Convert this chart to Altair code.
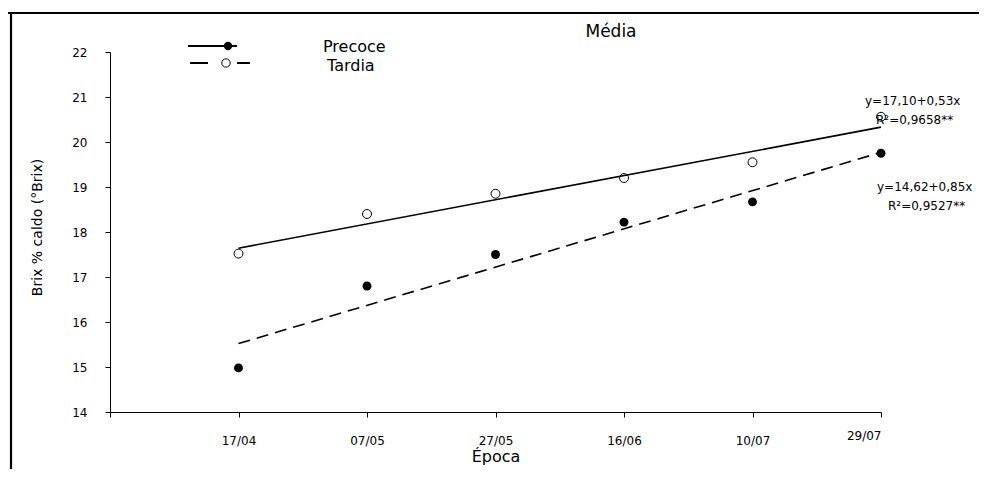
import altair as alt
import pandas as pd

# ---- data ----
dates = ["17/04", "07/05", "27/05", "16/06", "10/07", "29/07"]
epoch = [1, 2, 3, 4, 5, 6]
precoce = [14.98, 16.80, 17.50, 18.22, 18.67, 19.75]   # filled dots
tardia = [17.52, 18.40, 18.85, 19.20, 19.55, 20.56]    # open circles
fit_x = [1, 6]
fit_tardia = [17.64, 20.33]    # solid regression line
fit_precoce = [15.52, 19.77]   # dashed regression line
eq_texts = ["y=17,10+0,53x", "R²=0,9658**", "y=14,62+0,85x", "R²=0,9527**"]
legend_names = ["Precoce", "Tardia"]
title_text = "Média"
x_title = "Época"
y_title = "Brix % caldo (°Brix)"

FONT = "DejaVu Sans"

pts = pd.DataFrame({"x": epoch, "precoce": precoce, "tardia": tardia})
fit = pd.DataFrame({"x": fit_x, "tardia": fit_tardia, "precoce": fit_precoce})
one = pd.DataFrame({"k": [0]})

label_arr = "[" + ",".join("'%s'" % d for d in dates) + "]"

xscale = alt.Scale(domain=[0, 6], nice=False, zero=False)
yscale = alt.Scale(domain=[14, 22], nice=False, zero=False)

xaxis = alt.Axis(
    values=[0, 1, 2, 3, 4, 5, 6],
    labelExpr="datum.value == 0 ? '' : %s[datum.value - 1]" % label_arr,
    title=x_title,
    titleFont=FONT, titleFontSize=16, titleFontWeight="normal", titleColor="black",
    titleY=49, titleBaseline="alphabetic",
    labelFont=FONT, labelFontSize=12, labelColor="black",
    labelPadding=alt.expr("datum.value == 6 ? 13 : 18"),
    tickSize=5, tickColor="black", domainColor="black",
    grid=False, labelAngle=0,
)
yaxis = alt.Axis(
    values=[14, 15, 16, 17, 18, 19, 20, 21, 22],
    title=y_title,
    titleFont=FONT, titleFontSize=14, titleFontWeight="normal", titleColor="black",
    titleX=-73, titleY=175, titleAngle=-90, titleBaseline="middle", titleAlign="center",
    labelFont=FONT, labelFontSize=12, labelColor="black", labelPadding=18,
    tickSize=5, tickColor="black", domainColor="black", grid=False,
)

base_x = alt.X("x:Q", scale=xscale, axis=xaxis)

line_solid = alt.Chart(fit).mark_line(color="black", strokeWidth=1.6).encode(
    x=base_x, y=alt.Y("tardia:Q", scale=yscale, axis=yaxis)
)
line_dash = alt.Chart(fit).mark_line(color="black", strokeWidth=1.6, strokeDash=[12, 7]).encode(
    x=alt.X("x:Q", scale=xscale), y=alt.Y("precoce:Q", scale=yscale)
)
dots_filled = alt.Chart(pts).mark_point(filled=True, color="black", size=80, opacity=1).encode(
    x=alt.X("x:Q", scale=xscale), y=alt.Y("precoce:Q", scale=yscale)
)
dots_open = alt.Chart(pts).mark_point(filled=False, color="black", size=80, strokeWidth=1, opacity=1).encode(
    x=alt.X("x:Q", scale=xscale), y=alt.Y("tardia:Q", scale=yscale)
)

def txt(s, x, y, size, align="left"):
    return alt.Chart(one).mark_text(
        text=s, font=FONT, fontSize=size, color="black", align=align, baseline="middle"
    ).encode(x=alt.value(x), y=alt.value(y))

def rule(x1, x2, y1, y2, width=2, dash=None):
    kw = dict(color="black", strokeWidth=width)
    if dash:
        kw["strokeDash"] = dash
    return alt.Chart(one).mark_rule(**kw).encode(
        x=alt.value(x1), x2=alt.value(x2), y=alt.value(y1), y2=alt.value(y2)
    )

# frame (top and left edges of the surrounding box)
frame_top = rule(-107, 900, -39, -39, width=2.2)
frame_left = rule(-99, -99, -40, 430, width=2.2)

# title and legend
title = txt(title_text, 501, -20, 17, align="center")
leg_line1 = rule(78, 127, -6, -6, width=2)
leg_dot1 = alt.Chart(one).mark_point(filled=True, color="black", size=70, opacity=1).encode(
    x=alt.value(118), y=alt.value(-6))
leg_txt1 = txt(legend_names[0], 213, -5, 16)
leg_line2a = rule(80, 98, 11, 11, width=2)
leg_line2b = rule(127, 140, 11, 11, width=2)
leg_dot2 = alt.Chart(one).mark_point(filled=False, color="black", size=70, strokeWidth=1, opacity=1).encode(
    x=alt.value(116), y=alt.value(11))
leg_txt2 = txt(legend_names[1], 217, 14, 16)

# equations
eq1 = txt(eq_texts[0], 755, 49, 12)
eq2 = txt(eq_texts[1], 766, 68, 12)
eq3 = txt(eq_texts[2], 767, 135, 12)
eq4 = txt(eq_texts[3], 778, 154, 12)

chart = alt.layer(
    line_solid, line_dash, dots_filled, dots_open,
    frame_top, frame_left, title,
    leg_line1, leg_dot1, leg_txt1, leg_line2a, leg_line2b, leg_dot2, leg_txt2,
    eq1, eq2, eq3, eq4,
).properties(
    width=771, height=360,
    autosize=alt.AutoSizeParams(type="none"),
    padding={"left": 102, "top": 44, "right": 98, "bottom": 57},
    background="white",
).configure_view(stroke=None)

chart.save("out.html", embed_options={"renderer": "svg", "actions": False})
